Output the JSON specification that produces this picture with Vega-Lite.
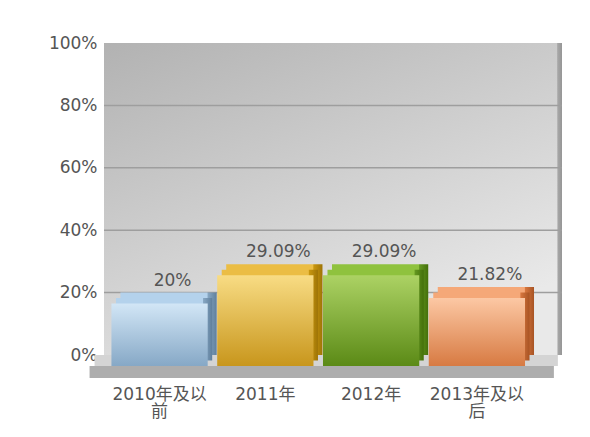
{
  "$schema": "https://vega.github.io/schema/vega-lite/v6.json",
  "width": 458,
  "height": 312,
  "autosize": {"type": "none"},
  "padding": {"left": 104, "top": 43, "right": 28, "bottom": 82},
  "background": "#ffffff",
  "config": {
    "view": {"stroke": null},
    "font": "DejaVu Sans, Noto Sans CJK SC",
    "axis": {"domain": false, "ticks": false, "grid": false, "labelColor": "#555555", "labelFont": "DejaVu Sans, Noto Sans CJK SC", "labelFontSize": 17, "title": null}
  },
  "datasets": {
    "shares": [
      {"period": "2010年及以前", "pct": 20, "label": "20%"},
      {"period": "2011年", "pct": 29.09, "label": "29.09%"},
      {"period": "2012年", "pct": 29.09, "label": "29.09%"},
      {"period": "2013年及以后", "pct": 21.82, "label": "21.82%"}
    ]
  },
  "data": {"name": "shares"},
  "encoding": {
    "x": {
      "field": "period", "type": "nominal", "sort": null,
      "scale": {"domain": ["2010年及以前", "2011年", "2012年", "2013年及以后"], "paddingInner": 0.09, "paddingOuter": 0.21, "align": 0.37},
      "axis": {"labelAngle": 0, "labelPadding": 31, "labelOffset": -9, "labelLineHeight": 17, "labelExpr": "length(datum.value) > 7 ? [substring(datum.value, 0, 7), substring(datum.value, 7)] : datum.value"}
    },
    "y": {
      "field": "pct", "type": "quantitative",
      "scale": {"domain": [0, 100], "nice": false, "zero": true},
      "axis": {"values": [0, 20, 40, 60, 80, 100], "labelPadding": 7, "labelExpr": "datum.value + '%'"}
    }
  },
  "layer": [
    {
      "data": {"values": [{"top": 100, "bottom": 0}]},
      "mark": {"type": "rect", "color": {"gradient": "linear", "x1": 0, "y1": 0, "x2": 0.6, "y2": 1, "stops": [{"offset": 0, "color": "#b2b2b2"}, {"offset": 1, "color": "#e9e9e9"}]}},
      "encoding": {"x": null, "y": {"field": "top", "type": "quantitative"}, "y2": {"field": "bottom"}}
    },
    {
      "data": {"values": [{"top": 100, "bottom": 0}]},
      "mark": {"type": "rect", "color": {"gradient": "linear", "x1": 0, "y1": 0, "x2": 1, "y2": 0, "stops": [{"offset": 0, "color": "rgba(0,0,0,0)"}, {"offset": 0.99, "color": "rgba(0,0,0,0)"}, {"offset": 0.991, "color": "#a6a6a6"}, {"offset": 1, "color": "#969696"}]}},
      "encoding": {"x": null, "y": {"field": "top", "type": "quantitative"}, "y2": {"field": "bottom"}}
    },
    {
      "data": {"values": [{"g": 20}, {"g": 40}, {"g": 60}, {"g": 80}]},
      "mark": {"type": "rule", "color": "#9e9e9e", "strokeWidth": 1.5},
      "encoding": {"x": null, "y": {"field": "g", "type": "quantitative"}}
    },
    {
      "data": {"values": [{"base": 0}]},
      "mark": {"type": "rule", "color": "#d4d4d4", "strokeWidth": 11, "yOffset": 5.5, "xOffset": -74, "x2Offset": 72},
      "encoding": {"x": {"datum": "2010年及以前"}, "x2": {"datum": "2013年及以后"}, "y": {"field": "base", "type": "quantitative"}}
    },
    {
      "data": {"values": [{"base": 0}]},
      "mark": {"type": "rule", "color": "#adadad", "strokeWidth": 12, "yOffset": 17, "xOffset": -79, "x2Offset": 68},
      "encoding": {"x": {"datum": "2010年及以前"}, "x2": {"datum": "2013年及以后"}, "y": {"field": "base", "type": "quantitative"}}
    },

    {"transform": [{"filter": "datum.period == '2010年及以前'"}],
     "mark": {"type": "bar", "color": {"gradient": "linear", "x1": 0, "y1": 0, "x2": 1, "y2": 0, "stops": [{"offset": 0, "color": "#b4d2ec"}, {"offset": 0.9, "color": "#b4d2ec"}, {"offset": 0.91, "color": "#86a6c2"}, {"offset": 1, "color": "#5f7f9c"}]}},
     "encoding": {"y2": {"datum": 0}}},
    {"transform": [{"filter": "datum.period == '2011年'"}],
     "mark": {"type": "bar", "color": {"gradient": "linear", "x1": 0, "y1": 0, "x2": 1, "y2": 0, "stops": [{"offset": 0, "color": "#ebbd44"}, {"offset": 0.9, "color": "#ebbd44"}, {"offset": 0.91, "color": "#c8960f"}, {"offset": 1, "color": "#9e7406"}]}},
     "encoding": {"y2": {"datum": 0}}},
    {"transform": [{"filter": "datum.period == '2012年'"}],
     "mark": {"type": "bar", "color": {"gradient": "linear", "x1": 0, "y1": 0, "x2": 1, "y2": 0, "stops": [{"offset": 0, "color": "#8fc23e"}, {"offset": 0.9, "color": "#8fc23e"}, {"offset": 0.91, "color": "#639620"}, {"offset": 1, "color": "#44700a"}]}},
     "encoding": {"y2": {"datum": 0}}},
    {"transform": [{"filter": "datum.period == '2013年及以后'"}],
     "mark": {"type": "bar", "color": {"gradient": "linear", "x1": 0, "y1": 0, "x2": 1, "y2": 0, "stops": [{"offset": 0, "color": "#f5a878"}, {"offset": 0.9, "color": "#f5a878"}, {"offset": 0.91, "color": "#d6763e"}, {"offset": 1, "color": "#a85424"}]}},
     "encoding": {"y2": {"datum": 0}}},

    {"transform": [{"filter": "datum.period == '2010年及以前'"}],
     "mark": {"type": "bar", "xOffset": -4.5, "x2Offset": -4.5, "yOffset": 5.5, "y2Offset": 5.5, "color": {"gradient": "linear", "x1": 0, "y1": 0, "x2": 1, "y2": 0, "stops": [{"offset": 0, "color": "#b4d2ec"}, {"offset": 0.9, "color": "#b4d2ec"}, {"offset": 0.91, "color": "#86a6c2"}, {"offset": 1, "color": "#5f7f9c"}]}},
     "encoding": {"y2": {"datum": 0}}},
    {"transform": [{"filter": "datum.period == '2011年'"}],
     "mark": {"type": "bar", "xOffset": -4.5, "x2Offset": -4.5, "yOffset": 5.5, "y2Offset": 5.5, "color": {"gradient": "linear", "x1": 0, "y1": 0, "x2": 1, "y2": 0, "stops": [{"offset": 0, "color": "#ebbd44"}, {"offset": 0.9, "color": "#ebbd44"}, {"offset": 0.91, "color": "#c8960f"}, {"offset": 1, "color": "#9e7406"}]}},
     "encoding": {"y2": {"datum": 0}}},
    {"transform": [{"filter": "datum.period == '2012年'"}],
     "mark": {"type": "bar", "xOffset": -4.5, "x2Offset": -4.5, "yOffset": 5.5, "y2Offset": 5.5, "color": {"gradient": "linear", "x1": 0, "y1": 0, "x2": 1, "y2": 0, "stops": [{"offset": 0, "color": "#8fc23e"}, {"offset": 0.9, "color": "#8fc23e"}, {"offset": 0.91, "color": "#639620"}, {"offset": 1, "color": "#44700a"}]}},
     "encoding": {"y2": {"datum": 0}}},
    {"transform": [{"filter": "datum.period == '2013年及以后'"}],
     "mark": {"type": "bar", "xOffset": -4.5, "x2Offset": -4.5, "yOffset": 5.5, "y2Offset": 5.5, "color": {"gradient": "linear", "x1": 0, "y1": 0, "x2": 1, "y2": 0, "stops": [{"offset": 0, "color": "#f5a878"}, {"offset": 0.9, "color": "#f5a878"}, {"offset": 0.91, "color": "#d6763e"}, {"offset": 1, "color": "#a85424"}]}},
     "encoding": {"y2": {"datum": 0}}},

    {"transform": [{"filter": "datum.period == '2010年及以前'"}],
     "mark": {"type": "bar", "xOffset": -9, "x2Offset": -9, "yOffset": 11, "y2Offset": 11, "color": {"gradient": "linear", "x1": 0, "y1": 0, "x2": 0, "y2": 1, "stops": [{"offset": 0, "color": "#d2e6f6"}, {"offset": 1, "color": "#86a8c6"}]}},
     "encoding": {"y2": {"datum": 0}}},
    {"transform": [{"filter": "datum.period == '2011年'"}],
     "mark": {"type": "bar", "xOffset": -9, "x2Offset": -9, "yOffset": 11, "y2Offset": 11, "color": {"gradient": "linear", "x1": 0, "y1": 0, "x2": 0, "y2": 1, "stops": [{"offset": 0, "color": "#f8dc84"}, {"offset": 1, "color": "#c8961c"}]}},
     "encoding": {"y2": {"datum": 0}}},
    {"transform": [{"filter": "datum.period == '2012年'"}],
     "mark": {"type": "bar", "xOffset": -9, "x2Offset": -9, "yOffset": 11, "y2Offset": 11, "color": {"gradient": "linear", "x1": 0, "y1": 0, "x2": 0, "y2": 1, "stops": [{"offset": 0, "color": "#acd264"}, {"offset": 1, "color": "#5b8a16"}]}},
     "encoding": {"y2": {"datum": 0}}},
    {"transform": [{"filter": "datum.period == '2013年及以后'"}],
     "mark": {"type": "bar", "xOffset": -9, "x2Offset": -9, "yOffset": 11, "y2Offset": 11, "color": {"gradient": "linear", "x1": 0, "y1": 0, "x2": 0, "y2": 1, "stops": [{"offset": 0, "color": "#fcc8a4"}, {"offset": 1, "color": "#d77a42"}]}},
     "encoding": {"y2": {"datum": 0}}},

    {
      "mark": {"type": "text", "baseline": "alphabetic", "align": "center", "dy": -7, "dx": 4, "fontSize": 17, "color": "#555555", "font": "DejaVu Sans"},
      "encoding": {"text": {"field": "label"}}
    }
  ]
}
